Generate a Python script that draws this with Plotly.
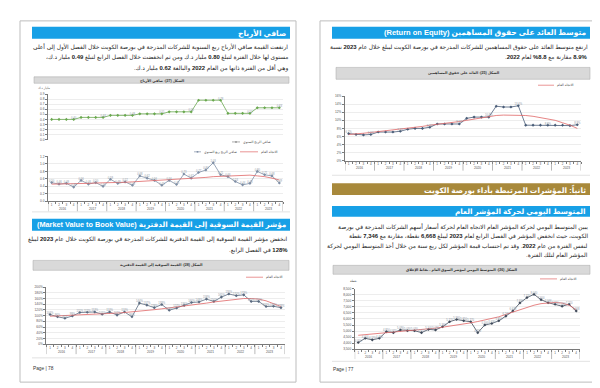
import plotly.graph_objects as go

W, H = 600, 388
def fx(x): return x / W
def fy(y): return 1 - y / H

FONT = "Liberation Sans, DejaVu Sans, Arial, sans-serif"

# ---------------- data ----------------
years = ["2016", "2017", "2018", "2019", "2020", "2021", "2022", "2023"]
quarters = ["1", "2", "3", "4"]
categories = [f"{y}-Q{q}" for y in years for q in quarters]
q_labels = [q for _ in years for q in quarters]

# Net profit (billion KD)
net_profit_annual_by_year = [0.40, 0.44, 0.48, 0.51, 0.55, 0.78, 0.52, 0.63]
net_profit_annual = [v for v in net_profit_annual_by_year for _ in quarters]
net_profit_q = [0.50, 0.46, 0.48, 0.38, 0.56, 0.46, 0.50, 0.40,
                0.59, 0.48, 0.52, 0.43, 0.68, 0.62, 0.56, 0.43,
                0.56, 0.45, 0.73, 0.62, 0.77, 0.84, 1.03, 0.71,
                0.66, 0.53, 0.44, 0.48, 0.80, 0.71, 0.68, 0.49]
net_profit_trend = [0.46, 0.46, 0.47, 0.47, 0.48, 0.48, 0.49, 0.49,
                    0.50, 0.51, 0.51, 0.52, 0.53, 0.54, 0.55, 0.56,
                    0.57, 0.58, 0.60, 0.61, 0.63, 0.64, 0.66, 0.67,
                    0.69, 0.70, 0.70, 0.70, 0.68, 0.66, 0.62, 0.57]

# Return on equity (%)
roe = [6.7, 6.5, 6.4, 6.5, 7.1, 7.1, 7.1, 7.3,
       7.8, 8.0, 8.0, 8.3, 9.1, 9.1, 9.1, 9.1,
       10.5, 10.8, 10.8, 10.8, 13.5, 13.3, 13.3, 13.6,
       8.8, 8.8, 8.8, 8.8, 8.8, 8.8, 8.7, 8.9]
roe_trend = [6.5, 6.6, 6.8, 7.0, 7.2, 7.4, 7.6, 7.8,
             8.0, 8.3, 8.5, 8.8, 9.0, 9.2, 9.5, 9.7,
             10.0, 10.3, 10.6, 11.0, 11.2, 11.3, 11.3, 11.3,
             11.2, 11.0, 10.7, 10.4, 10.0, 9.4, 8.8, 8.0]

# Market value to book value (%)
mvbv = [104, 96, 91, 99, 111, 112, 113, 105,
        113, 102, 113, 96, 144, 137, 128, 139,
        119, 127, 136, 146, 148, 158, 150, 165,
        176, 170, 173, 150, 150, 132, 133, 128]
mvbv_trend = [98, 99, 100, 101, 102, 103, 104, 105,
              107, 109, 111, 113, 115, 118, 121, 124,
              127, 130, 134, 137, 141, 144, 148, 151,
              155, 158, 160, 160, 158, 152, 143, 132]

# General index, quarterly average of daily closes (points)
index_avg = [4050, 4400, 4270, 4400, 4950, 4870, 5090, 5030,
             5030, 4870, 5140, 5090, 5360, 5770, 5960, 5850,
             5770, 4870, 5500, 5630, 5850, 6240, 6670, 7330,
             7770, 8040, 7600, 7346, 7220, 7060, 7220, 6668]
index_trend = [4650, 4700, 4750, 4800, 4850, 4900, 4950, 5000,
               5050, 5110, 5170, 5240, 5320, 5400, 5490, 5580,
               5680, 5790, 5900, 6020, 6180, 6380, 6580, 6780,
               6980, 7140, 7270, 7340, 7370, 7320, 7140, 6760]

# ---------------- helpers ----------------
shapes, ann = [], []

def rect(x0, y0, x1, y1, fill, line=None, lw=0, layer="below"):
    shapes.append(dict(type="rect", xref="paper", yref="paper",
                       x0=fx(x0), x1=fx(x1), y0=fy(y1), y1=fy(y0),
                       fillcolor=fill, line=dict(color=line or fill, width=lw), layer=layer))

def hline(x0, x1, y, color, w, layer="above"):
    shapes.append(dict(type="line", xref="paper", yref="paper",
                       x0=fx(x0), x1=fx(x1), y0=fy(y), y1=fy(y),
                       line=dict(color=color, width=w), layer=layer))

def rtl(s):
    return "\u202b" + s + "\u202c"

def text(x, y, s, size, color="#222222", anchor="right", bold=False, arabic=True):
    t = "<b>" + s + "</b>" if bold else s
    if arabic:
        t = rtl(t)
    ann.append(dict(xref="paper", yref="paper", x=fx(x), y=fy(y), text=t,
                    showarrow=False, xanchor=anchor, yanchor="middle",
                    font=dict(size=size, color=color, family=FONT)))

def legend_line(x0, x1, y, color, label, marker=False):
    hline(x0, x1, y, color, 0.7)
    if marker:
        shapes.append(dict(type="rect", xref="paper", yref="paper",
                           x0=fx((x0 + x1) / 2 - 0.8), x1=fx((x0 + x1) / 2 + 0.8),
                           y0=fy(y + 0.8), y1=fy(y - 0.8),
                           fillcolor=color, line=dict(width=0)))
    text(x1 + 1, y, label, 3.4, color="#444444", anchor="left")

def year_axis_decor(xref, axis_y):
    # year separators and year labels below a quarterly category axis
    for k in range(len(years) + 1):
        b = 4 * k - 0.5
        shapes.append(dict(type="line", xref=xref, yref="paper", x0=b, x1=b,
                           y0=fy(axis_y + 10), y1=fy(axis_y),
                           line=dict(color="#8a8a8a", width=0.6)))
    for k, yr in enumerate(years):
        ann.append(dict(xref=xref, yref="paper", x=4 * k + 1.5, y=fy(axis_y + 7.6),
                        text=yr, showarrow=False, xanchor="center", yanchor="middle",
                        font=dict(size=3.2, color="#555555", family=FONT)))

BLUE = "#17a0e6"
GOLD = "#a8893b"

# ---------------- pages ----------------
rect(12, 11, 288, 376, "white", "#bdbdbd", 1)
rect(312, 11, 588, 376, "white", "#bdbdbd", 1)

# ---- left page ----
rect(24, 17, 282, 29, BLUE)
text(280, 23, "صافي الأرباح", 7.5, "white", bold=True)
text(282, 37.5, "ارتفعت القيمة صافي الأرباح ربع السنوية للشركات المدرجة في بورصة الكويت خلال الفصل الأول إلى أعلى", 5.9)
text(282, 48, "مستوى لها خلال الفترة لتبلغ <b>0.80</b> مليار د.ك ومن ثم انخفضت خلال الفصل الرابع لتبلغ <b>0.49</b> مليار د.ك،", 5.9)
text(282, 58.5, "وهي أقل من الفترة ذاتها من العام <b>2022</b> والبالغة <b>0.62</b> مليار د.ك.", 5.9)

rect(26, 67.5, 281, 74, "#d9d9d9", "#a6a6a6", 0.5)
text(153.5, 70.8, "الشكل (27): صافي الأرباح", 3.6, "#333333", anchor="center", bold=True)
text(44, 79, "مليار د.ك", 3.2, "#555555")
legend_line(224, 232, 133.3, "#8a8a8a", "صافي الربح السنوي", marker=True)
legend_line(186, 193, 143.3, "#7f8fa6", "صافي الربح ربع السنوي", marker=True)
legend_line(232, 250, 143.3, "#e06666", "الاتجاه العام")
hline(24, 282, 204, "#cfcfcf", 0.6)

rect(24, 211, 282, 223, BLUE)
text(280, 217, "مؤشر القيمة السوقية إلى القيمة الدفترية (Market Value to Book Value)", 7.3, "white", bold=True)
text(282, 231.7, "انخفض مؤشر القيمة السوقية إلى القيمة الدفترية للشركات المدرجة في بورصة الكويت خلال عام <b>2023</b> ليبلغ", 5.9)
text(282, 243, "<b>128%</b> في الفصل الرابع.", 5.9)

rect(25, 253, 281, 263, "#d9d9d9", "#a6a6a6", 0.5)
text(153, 258, "الشكل (28): القيمة السوقية إلى القيمة الدفترية", 3.6, "#333333", anchor="center", bold=True)
legend_line(238, 255, 270, "#e06666", "الاتجاه العام")
hline(24, 282, 351.5, "#cfcfcf", 0.6)
text(23, 362, "Page | 78", 4.8, "#333333", anchor="left", arabic=False)

# ---- right page ----
rect(324, 17, 582, 29, BLUE)
text(580, 23, "متوسط العائد على حقوق المساهمين (Return on Equity)", 7.5, "white", bold=True)
text(582, 37.7, "ارتفع متوسط العائد على حقوق المساهمين للشركات المدرجة في بورصة الكويت ليبلغ خلال عام <b>2023</b> نسبة", 5.9)
text(582, 47.7, "<b>8.9%</b> مقارنة مع <b>8.8%</b> لعام <b>2022</b>.", 5.9)

rect(328, 58, 582, 70, "#d9d9d9", "#a6a6a6", 0.5)
text(455, 64, "الشكل (25): العائد على حقوق المساهمين", 3.6, "#333333", anchor="center", bold=True)
legend_line(530, 546, 76, "#e06666", "الاتجاه العام")
hline(324, 582, 167, "#cfcfcf", 0.6)

rect(324, 175, 582, 187, GOLD)
text(580, 181, "ثانياً: المؤشرات المرتبطة بأداء بورصة الكويت", 7.5, "white", bold=True)
rect(324, 198, 582, 209, BLUE)
text(580, 203.5, "المتوسط اليومي لحركة المؤشر العام", 7.3, "white", bold=True)
text(582, 219, "يبين المتوسط اليومي لحركة المؤشر العام الاتجاه العام لحركة أسعار أسهم الشركات المدرجة في بورصة", 5.9)
text(582, 228.5, "الكويت، حيث انخفض المؤشر في الفصل الرابع لعام <b>2023</b> ليبلغ <b>6,668</b> نقطة، مقارنة مع <b>7,346</b> نقطة", 5.9)
text(582, 238.3, "لنفس الفترة من عام <b>2022</b>. وقد تم احتساب قيمة المؤشر لكل ربع سنة من خلال أخذ المتوسط اليومي لحركة", 5.9)
text(582, 248.3, "المؤشر العام لتلك الفترة.", 5.9)

rect(325, 258, 582, 267, "#d9d9d9", "#a6a6a6", 0.5)
text(453.5, 262.5, "الشكل (26): المتوسط اليومي لمؤشر السوق العام - نقاط الإغلاق", 3.6, "#333333", anchor="center", bold=True)
legend_line(532, 549, 271.7, "#e06666", "الاتجاه العام")
text(351, 274, "نقطة", 3.2, "#555555")
hline(324, 582, 355, "#cfcfcf", 0.6)
text(323, 363, "Page | 77", 4.8, "#333333", anchor="left", arabic=False)

# ---------------- axes ----------------
TICKF = dict(size=3.0, color="#555555", family=FONT)

def xcat(x0, x1, anchor, show=True):
    return dict(domain=[fx(x0), fx(x1)], anchor=anchor, type="category",
                categoryorder="array", categoryarray=categories,
                range=[-0.5, len(categories) - 0.5],
                tickmode="array", tickvals=categories, ticktext=q_labels,
                tickson="boundaries", showline=show, linecolor="#7a7a7a", linewidth=0.8,
                ticks="outside" if show else "", ticklen=2, tickwidth=0.6, tickcolor="#7a7a7a",
                showticklabels=show, tickfont=TICKF, tickangle=0,
                showgrid=False, zeroline=False, visible=show)

def yax(y0, y1, rng, dtick, anchor, fmt=None, suffix=""):
    return dict(domain=[fy(y1), fy(y0)], anchor=anchor, range=rng, dtick=dtick, tick0=rng[0],
                showline=True, linecolor="#7a7a7a", linewidth=0.8, ticks="outside",
                ticklen=2, tickwidth=0.6, tickcolor="#7a7a7a",
                tickfont=dict(size=3.2, color="#555555", family=FONT),
                tickformat=fmt, ticksuffix=suffix, showgrid=True, gridcolor="#ededed",
                gridwidth=0.5, zeroline=False)

LBL = dict(size=2.7, color="#8c96a3", family=FONT)

fig = go.Figure()

def add_series(xa, ya, y, color, markers=True, width=0.8):
    fig.add_trace(go.Scatter(
        x=categories, y=y, xaxis=xa, yaxis=ya,
        mode="lines+markers" if markers else "lines",
        line=dict(color=color, width=width),
        marker=dict(symbol="diamond", size=2.4, color=color),
        hoverinfo="skip", showlegend=False, cliponaxis=False))

def add_labels(xa, ya, y, fmt, every=1, extra=()):
    idx = [i for i in range(len(y)) if i % every == every - 1 or i in extra]
    fig.add_trace(go.Scatter(
        x=[categories[i] for i in idx], y=[y[i] for i in idx], xaxis=xa, yaxis=ya,
        mode="text", text=[fmt(y[i]) for i in idx], textposition="top center",
        textfont=LBL, hoverinfo="skip", showlegend=False, cliponaxis=False))

# chart 1 upper: annual net profit
add_series("x", "y", net_profit_annual, "#6aa84f")
add_labels("x", "y", net_profit_annual, lambda v: f"{v:.2f}", every=4)
# chart 1 lower: quarterly net profit + trend
add_series("x2", "y2", net_profit_q, "#7f8fa6")
add_series("x2", "y2", net_profit_trend, "#e06666", markers=False)
add_labels("x2", "y2", net_profit_q, lambda v: f"{v:.2f}")
# chart 2: ROE
add_series("x3", "y3", roe, "#4a5d78")
add_series("x3", "y3", roe_trend, "#e06666", markers=False)
add_labels("x3", "y3", roe, lambda v: f"{v:.1f}%", every=4, extra=(0,))
# chart 3: MV/BV
add_series("x4", "y4", mvbv, "#5b6b80")
add_series("x4", "y4", mvbv_trend, "#e06666", markers=False)
add_labels("x4", "y4", mvbv, lambda v: f"{v}%")
# chart 4: index
add_series("x5", "y5", index_avg, "#3f4a5a")
add_series("x5", "y5", index_trend, "#e06666", markers=False)
add_labels("x5", "y5", index_avg, lambda v: f"{v:,}")

year_axis_decor("x2", 193.3)
year_axis_decor("x3", 152.3)
year_axis_decor("x4", 337.7)
year_axis_decor("x5", 342.7)

fig.update_layout(
    width=W, height=H, margin=dict(l=0, r=0, t=0, b=0),
    paper_bgcolor="white", plot_bgcolor="rgba(0,0,0,0)",
    showlegend=False, font=dict(family=FONT),
    shapes=shapes, annotations=ann,
    xaxis=xcat(40, 275, "y", show=False),
    yaxis=yax(85, 131, [0, 0.9], 0.1, "x", fmt=".1f"),
    xaxis2=xcat(40, 275, "y2"),
    yaxis2=yax(148, 193.3, [0, 1.2], 0.2, "x2", fmt=".1f"),
    xaxis3=xcat(337, 573, "y3"),
    yaxis3=yax(87, 152.3, [0, 16], 2, "x3", suffix="%"),
    xaxis4=xcat(38.3, 276.7, "y4"),
    yaxis4=yax(280, 337.7, [0, 200], 20, "x4", suffix="%"),
    xaxis5=xcat(346.7, 571.7, "y5"),
    yaxis5=yax(281.7, 342.7, [3500, 8500], 500, "x5", fmt=","),
)

fig.write_html("out.html")
